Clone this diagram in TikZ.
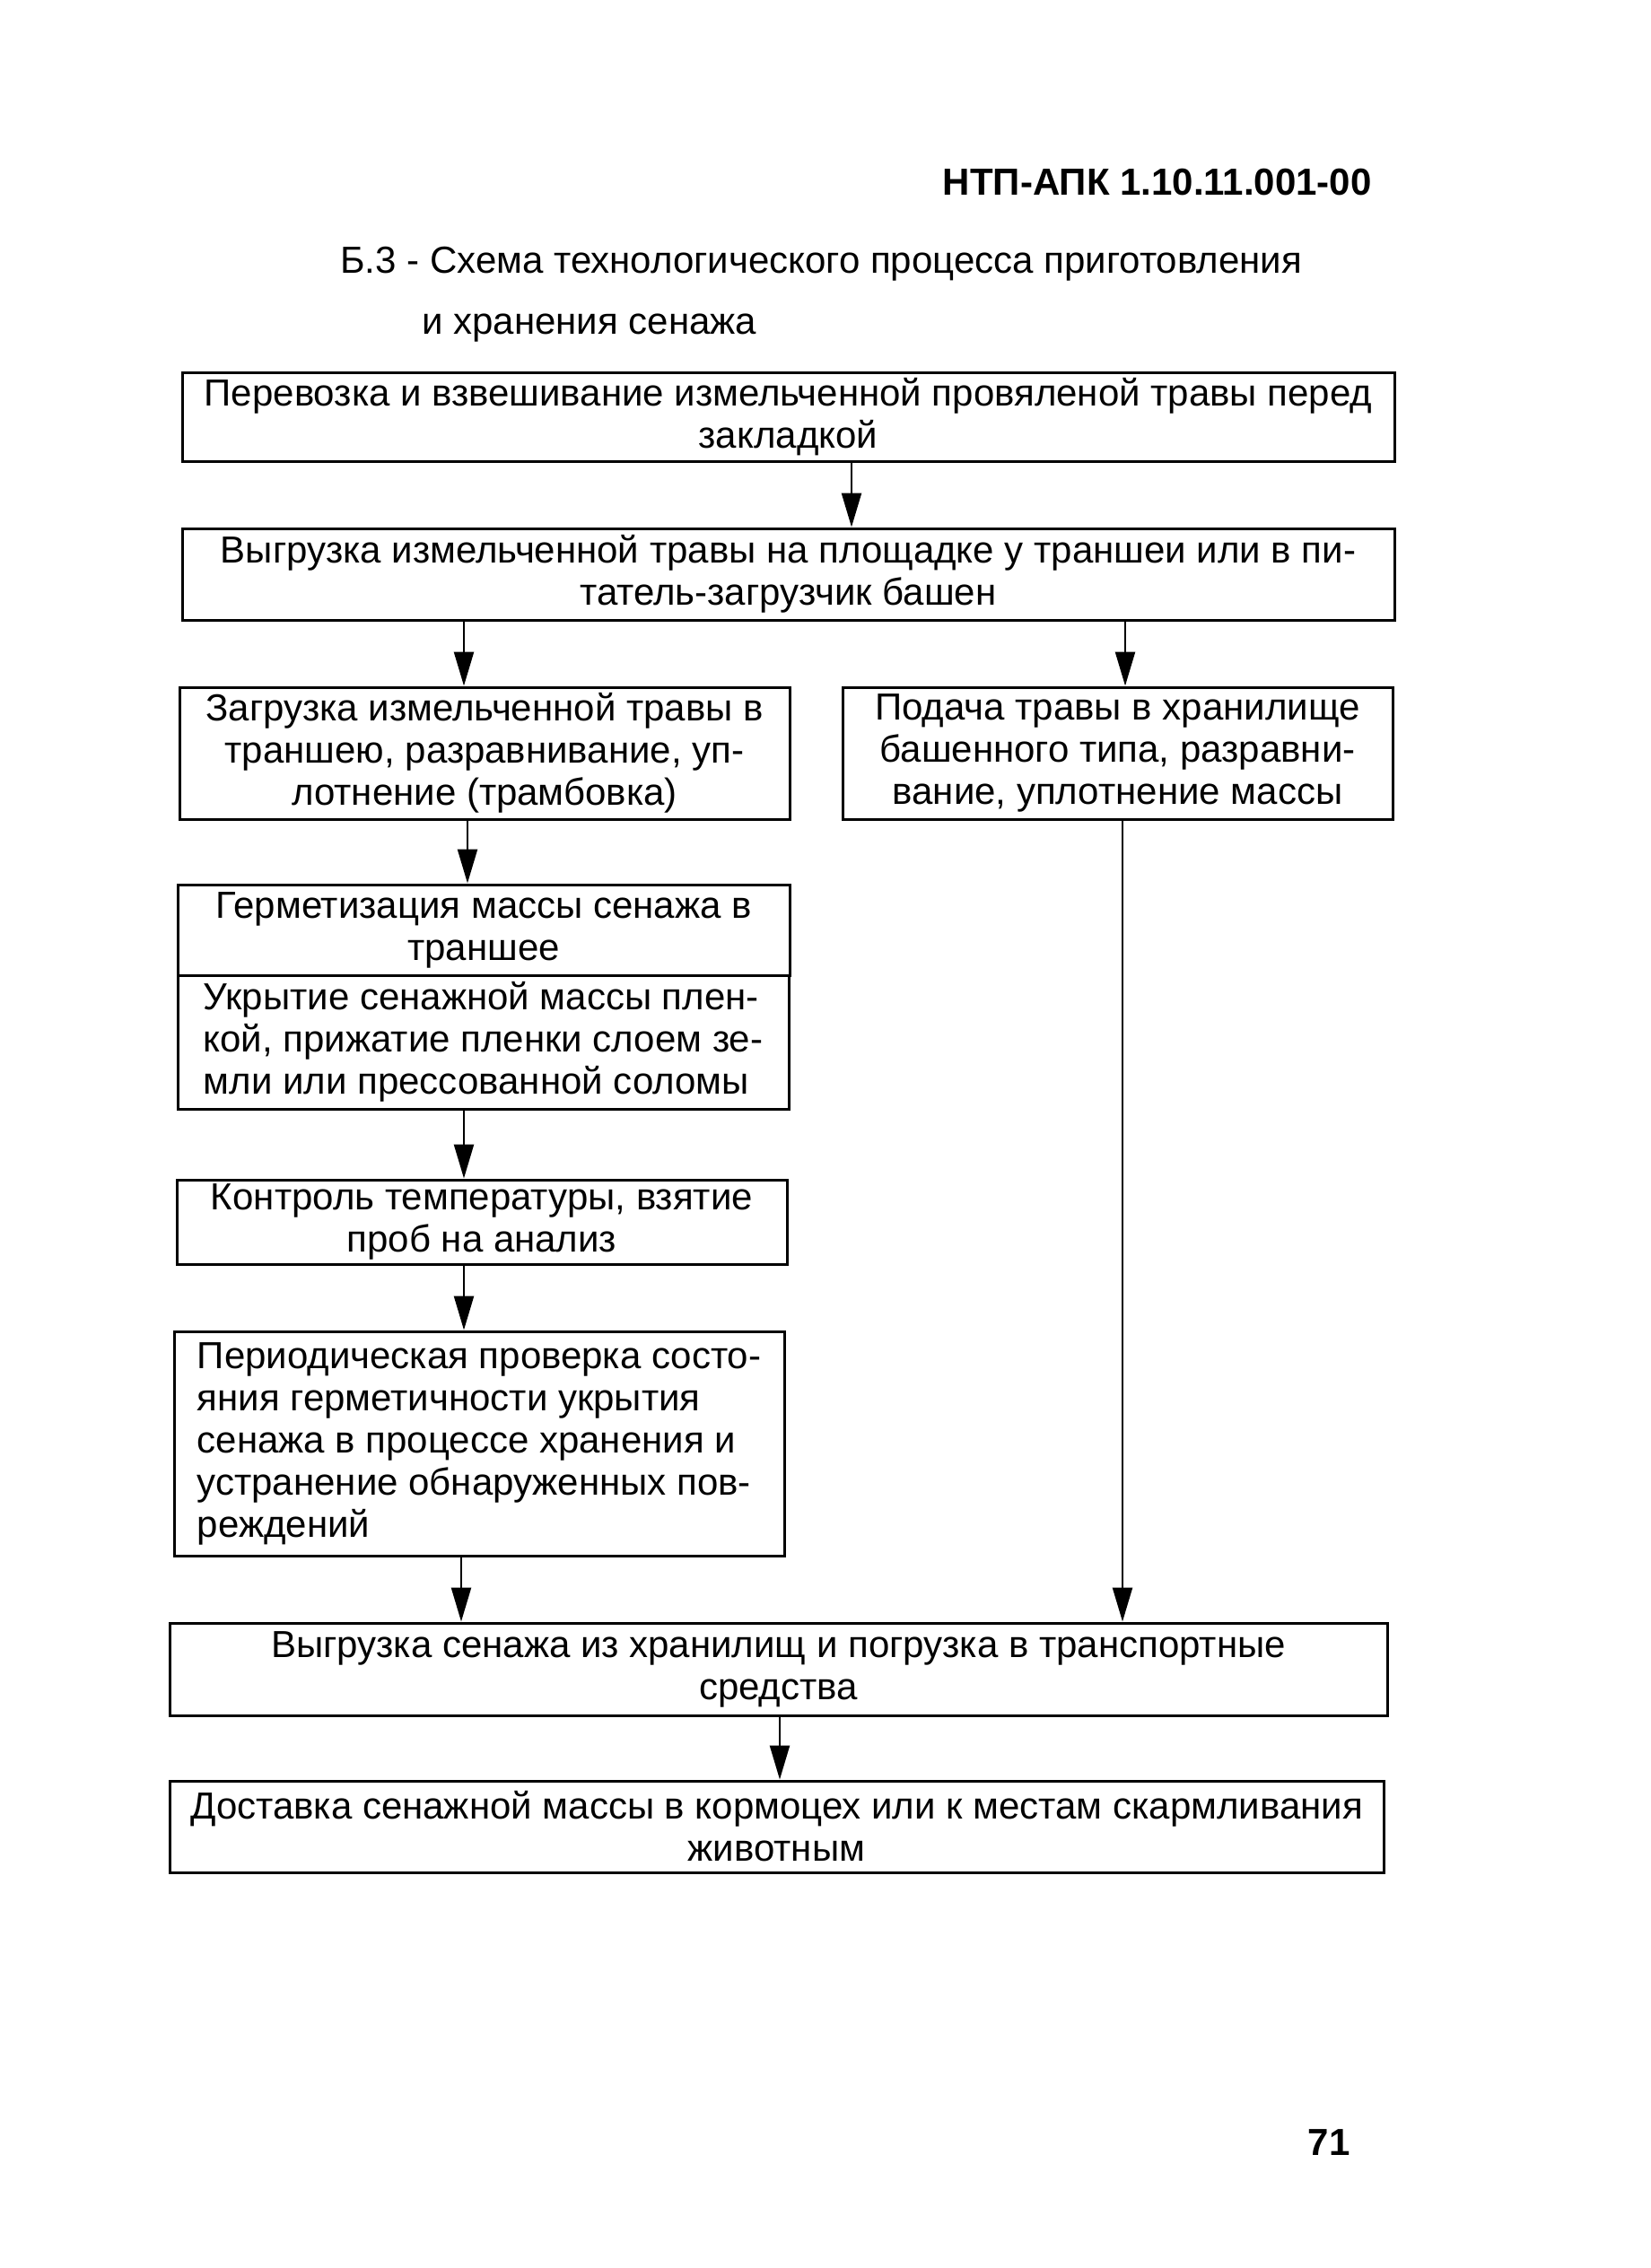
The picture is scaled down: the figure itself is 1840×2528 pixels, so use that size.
\documentclass[tikz,border=0pt]{standalone}
\usepackage{fontspec}
\setmainfont{Liberation Sans}
\usetikzlibrary{arrows.meta}
\begin{document}
\begin{tikzpicture}[x=0.5pt,y=-0.5pt,
  box/.style={draw, line width=1.5pt, inner sep=2pt, align=center,
    font=\fontsize{21}{23.5}\selectfont},
  lbox/.style={box, align=left},
  arr/.style={line width=1.2pt, -{Triangle[length=19pt,width=11pt]}},
  txt/.style={font=\fontsize{21}{23.5}\selectfont, inner sep=0pt}]
\useasboundingbox (0,0) rectangle (1840,2528);
\node[txt, anchor=east, font=\bfseries\fontsize{21}{23.5}\selectfont] (hdr) at (1529,203) {НТП-АПК 1.10.11.001-00};
\node[txt, anchor=west] (t1) at (379,294) {Б.3 - Схема технологического процесса приготовления};
\node[txt, anchor=west] (t2) at (470,366) {и хранения сенажа};
\node[box, minimum width=675.5pt, minimum height=49.5pt] (b1) at (878.5,464.5)
  {Перевозка и взвешивание измельченной провяленой травы перед\\закладкой};
\node[box, minimum width=675.5pt, minimum height=51pt] (b2) at (878.5,640)
  {Выгрузка измельченной травы на площадке у траншеи или в пи-\\татель-загрузчик башен};
\node[box, minimum width=340pt, minimum height=73.5pt] (b3) at (540,839.5)
  {Загрузка измельченной травы в\\траншею, разравнивание, уп-\\лотнение (трамбовка)};
\node[box, minimum width=306.5pt, minimum height=73.5pt] (b4) at (1245.5,839.5)
  {Подача травы в хранилище\\башенного типа, разравни-\\вание, уплотнение массы};
\node[box, minimum width=341pt, minimum height=50.5pt] (b5) at (539,1036.5)
  {Герметизация массы сенажа в\\траншее};
\node[lbox, minimum width=340.5pt, minimum height=74.5pt] (b6) at (538.5,1161.5)
  {Укрытие сенажной массы плен-\\кой, прижатие пленки слоем зе-\\мли или прессованной соломы};
\node[box, minimum width=340pt, minimum height=47pt] (b7) at (537,1362)
  {Контроль температуры, взятие\\проб на анализ};
\node[lbox, minimum width=340pt, minimum height=125pt] (b8) at (534,1609)
  {Периодическая проверка состо-\\яния герметичности укрытия\\сенажа в процессе хранения и\\устранение обнаруженных пов-\\реждений};
\node[box, minimum width=678.5pt, minimum height=51.5pt] (b9) at (867.5,1860.5)
  {Выгрузка сенажа из хранилищ и погрузка в транспортные\\средства};
\node[box, minimum width=676.5pt, minimum height=51pt] (b10) at (865.5,2036)
  {Доставка сенажной массы в кормоцех или к местам скармливания\\животным};
\node[txt, font=\bfseries\fontsize{21}{23.5}\selectfont] (pg) at (1481,2388) {71};
\coordinate (xa) at (949,0);
\coordinate (xb) at (517,0);
\coordinate (xc) at (1254,0);
\coordinate (xd) at (521,0);
\coordinate (xe) at (514,0);
\coordinate (xf) at (1251,0);
\coordinate (xg) at (869,0);
\draw[arr] (b1.south -| xa) -- (b2.north -| xa);
\draw[arr] (b2.south -| xb) -- (b3.north -| xb);
\draw[arr] (b2.south -| xc) -- (b4.north -| xc);
\draw[arr] (b3.south -| xd) -- (b5.north -| xd);
\draw[arr] (b6.south -| xb) -- (b7.north -| xb);
\draw[arr] (b7.south -| xb) -- (b8.north -| xb);
\draw[arr] (b8.south -| xe) -- (b9.north -| xe);
\draw[arr] (b4.south -| xf) -- (b9.north -| xf);
\draw[arr] (b9.south -| xg) -- (b10.north -| xg);
\end{tikzpicture}
\end{document}
